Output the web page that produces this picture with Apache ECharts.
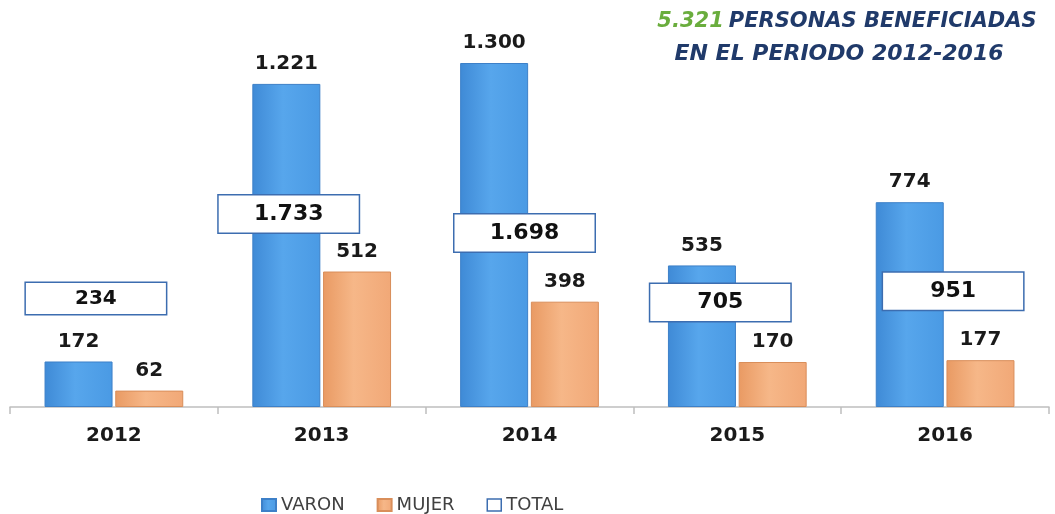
<!DOCTYPE html>
<html>
<head>
<meta charset="utf-8">
<script src="https://cdn.jsdelivr.net/npm/echarts@6/dist/echarts.min.js"></script>
<style>
  html, body { margin: 0; padding: 0; background: #fff; }
  #chart { width: 1055px; height: 514px; }
</style>
</head>
<body>
<div id="chart"></div>
<script>
// datos
const years = ['2012', '2013', '2014', '2015', '2016'];
const varon = [172, 1221, 1300, 535, 774];
const mujer = [62, 512, 398, 170, 177];
const totals = [234, 1733, 1698, 705, 951];

// ubicación de las cajas TOTAL (px, respecto a la barra VARON)
const totalBoxOffset = [[-18, -63], [-33, 130], [-5, 170], [-17, 37], [8, 89]];

const fmt = v => v >= 1000 ? Math.floor(v / 1000) + '.' + String(v % 1000).padStart(3, '0') : String(v);

const blue = new echarts.graphic.LinearGradient(0, 0, 1, 0, [
  { offset: 0, color: '#3f8ad6' },
  { offset: 0.45, color: '#57a6ec' },
  { offset: 1, color: '#4a9ae4' }
]);
const orange = new echarts.graphic.LinearGradient(0, 0, 1, 0, [
  { offset: 0, color: '#e99a63' },
  { offset: 0.45, color: '#f6b788' },
  { offset: 1, color: '#f1a877' }
]);

const font = 'DejaVu Sans';
const barLabel = {
  show: true,
  position: 'top',
  distance: 10,
  fontFamily: font,
  fontWeight: 'bold',
  fontSize: 20,
  color: '#1a1a1a',
  formatter: p => fmt(p.value)
};

let myChart = echarts.init(document.getElementById('chart'));
myChart.setOption({
  animation: false,
  title: [
    {
      text: '{g|5.321} {b|PERSONAS BENEFICIADAS}',
      left: 842, top: 6, textAlign: 'center',
      textStyle: {
        rich: {
          g: { color: '#6aad3d', fontFamily: font, fontWeight: 'bold', fontStyle: 'italic', fontSize: 21 },
          b: { color: '#203a6a', fontFamily: font, fontWeight: 'bold', fontStyle: 'italic', fontSize: 21 }
        }
      }
    },
    {
      text: 'EN EL PERIODO 2012-2016',
      left: 834, top: 38, textAlign: 'center',
      textStyle: { color: '#203a6a', fontFamily: font, fontWeight: 'bold', fontStyle: 'italic', fontSize: 22 }
    }
  ],
  legend: {
    left: 256, top: 491,
    itemWidth: 14, itemHeight: 12, itemGap: 32,
    textStyle: { fontFamily: font, fontSize: 18, color: '#404040' },
    data: [
      { name: 'VARON', icon: 'rect' },
      { name: 'MUJER', icon: 'rect' },
      { name: 'TOTAL', icon: 'rect', itemStyle: { color: '#ffffff', borderColor: '#3c6db0', borderWidth: 1.5 } }
    ]
  },
  grid: { left: 10, right: 6, top: 63, bottom: 107 },
  xAxis: {
    type: 'category',
    data: years,
    axisLine: { lineStyle: { color: '#bfbfbf', width: 1.5 } },
    axisTick: { show: true, length: 7, lineStyle: { color: '#bfbfbf', width: 1.5 } },
    axisLabel: { margin: 19, fontFamily: font, fontWeight: 'bold', fontSize: 20, color: '#1a1a1a' }
  },
  yAxis: { type: 'value', min: 0, max: 1300, show: false },
  series: [
    {
      name: 'VARON', type: 'bar', data: varon,
      barWidth: 68, barGap: '4%',
      itemStyle: { color: blue, borderColor: '#3d80c8', borderWidth: 1 },
      label: barLabel
    },
    {
      name: 'MUJER', type: 'bar', data: mujer,
      barWidth: 68,
      itemStyle: { color: orange, borderColor: '#d98e5a', borderWidth: 1 },
      label: barLabel
    },
    {
      name: 'TOTAL', type: 'scatter',
      symbolSize: 1,
      itemStyle: { color: 'rgba(0,0,0,0)', opacity: 1 },
      emphasis: { disabled: true },
      z: 5,
      data: years.map((y, i) => ({
        value: [i, varon[i]],
        label: {
          offset: totalBoxOffset[i],
          fontSize: i === 0 ? 20 : 22,
          height: i === 0 ? 31 : 37,
          lineHeight: i === 0 ? 31 : 37
        }
      })),
      label: {
        show: true,
        position: 'inside',
        formatter: p => fmt(totals[p.dataIndex]),
        fontFamily: font,
        fontWeight: 'bold',
        color: '#111',
        backgroundColor: '#fff',
        borderColor: '#3c6db0',
        borderWidth: 1.5,
        width: 140,
        align: 'center',
        verticalAlign: 'middle'
      }
    }
  ]
});
</script>
</body>
</html>
